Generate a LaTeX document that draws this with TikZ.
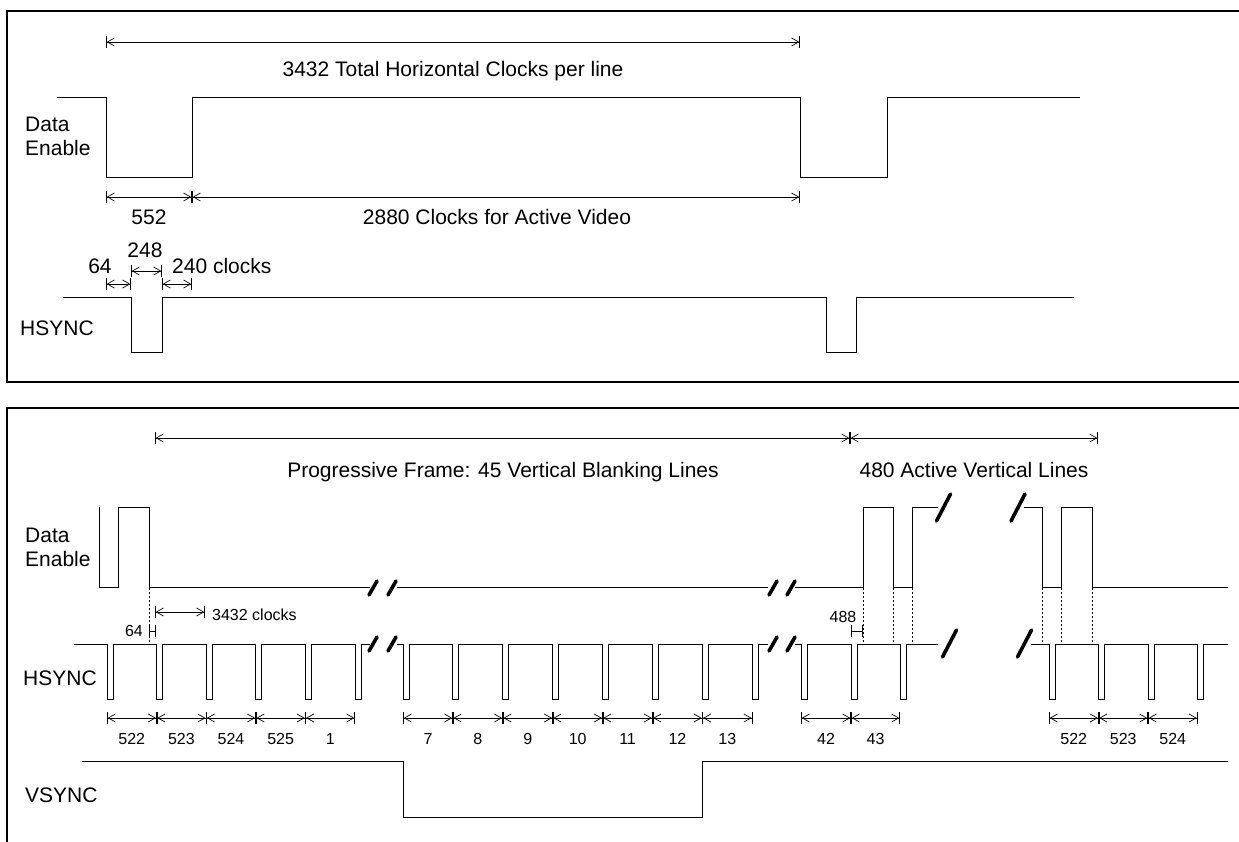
\documentclass[tikz,border=0pt]{standalone}
\usepackage{fontspec}
\setmainfont{Liberation Sans}
\usetikzlibrary{arrows.meta}
\tikzset{
  sig/.style={line width=1pt},
  frame/.style={line width=1.2pt},
  dimline/.style={line width=0.7pt, {Bar[width=12pt]Straight Barb[length=7pt,width=8pt]}-{Straight Barb[length=7pt,width=8pt]Bar[width=12pt]}},
  hmark/.style={line width=0.7pt, {Bar[width=12pt]}-{Bar[width=12pt]}},
  guide/.style={line width=0.8pt, dash pattern=on 2pt off 2pt},
  brk/.style={line width=3.6pt, line cap=round},
  lbl/.style={inner sep=0pt, font=\fontsize{21}{25}\selectfont},
  sml/.style={inner sep=0pt, font=\fontsize{16}{19}\selectfont},
}
\begin{document}
\begin{tikzpicture}[x=1pt,y=-1pt]
  \useasboundingbox (0,0) rectangle (1239,842);
  % frames
  \draw[frame] (1240,11) -- (7,11) -- (7,382) -- (1240,382);
  \draw[frame] (7,843) -- (7,408) -- (1240,408);

  % ---- one line ----
  \draw[dimline] (106,42) -- (800,42);
  \node[lbl,anchor=base] (total) at (453,77) {3432 Total Horizontal Clocks per line};
  \node[lbl,anchor=base west] (deA) at (25,132) {Data};
  \node[lbl,anchor=base west] (deB) at (25,156) {Enable};
  \draw[sig] (57,98) -- (106,98) -- (106,178) -- (192,178) -- (192,98) -- (800,98)
    -- (800,178) -- (887,178) -- (887,98) -- (1080,98);
  \draw[dimline] (106,197) -- (192,197);
  \draw[dimline] (192,197) -- (800,197);
  \node[lbl,anchor=base] (blank) at (149,225) {552};
  \node[lbl,anchor=base] (active) at (497,225) {2880 Clocks for Active Video};
  \draw[dimline] (106,284) -- (131,284);
  \draw[dimline] (131,271) -- (162,271);
  \draw[dimline] (162,284) -- (192,284);
  \node[lbl,anchor=base] (front) at (100,273) {64};
  \node[lbl,anchor=base] (pulse) at (145,258) {248};
  \node[lbl,anchor=base west] (back) at (172,273) {240 clocks};
  \node[lbl,anchor=base west] (hsA) at (20,335) {HSYNC};
  \draw[sig] (63,297) -- (131,297) -- (131,352) -- (162,352) -- (162,297) -- (826,297)
    -- (826,352) -- (856,352) -- (856,297) -- (1074,297);

  % ---- one frame ----
  \draw[dimline] (155,438) -- (850,438);
  \draw[dimline] (850,438) -- (1098,438);
  \node[lbl,anchor=base] (vblank) at (503,477) {Progressive Frame: 45 Vertical Blanking Lines};
  \node[lbl,anchor=base] (vactive) at (974,477) {480 Active Vertical Lines};
  \node[lbl,anchor=base west] (deC) at (25,542) {Data};
  \node[lbl,anchor=base west] (deD) at (25,566) {Enable};
  \node[lbl,anchor=base west] (hsB) at (23,685) {HSYNC};
  \node[lbl,anchor=base west] (vs) at (25,802) {VSYNC};

  \draw[sig] (99,507) -- (99,587) -- (118,587) -- (118,507) -- (149,507) -- (149,587) -- (370,587);
  \draw[sig] (397,587) -- (768,587);
  \draw[sig] (795,587) -- (863,587) -- (863,507) -- (893,507) -- (893,587) -- (912,587)
    -- (912,507) -- (938,507);
  \draw[sig] (1024,507) -- (1042,507) -- (1042,587) -- (1061,587) -- (1061,507) -- (1092,507)
    -- (1092,587) -- (1228,587);

  \draw[sig] (74,644) foreach \x in {107,156.6,206.2,255.8,305.4,355}
    { -- (\x,644) -- (\x,699) -- (\x+6,699) -- (\x+6,644) } -- (370,644);
  \draw[sig] (397,644) foreach \x in {403,452.9,502.8,552.7,602.6,652.5,702.4,752.3}
    { -- (\x,644) -- (\x,699) -- (\x+6,699) -- (\x+6,644) } -- (768,644);
  \draw[sig] (795,644) foreach \x in {801,851,900}
    { -- (\x,644) -- (\x,699) -- (\x+6,699) -- (\x+6,644) } -- (938,644);
  \draw[sig] (1031,644) foreach \x in {1049,1098.5,1148,1197.5}
    { -- (\x,644) -- (\x,699) -- (\x+6,699) -- (\x+6,644) } -- (1228,644);

  % breaks
  \foreach \cx in {373,392,773,791}
    \foreach \cy in {588,644}
      \draw[brk] (\cx-4,\cy+7) -- (\cx+4,\cy-7);
  \foreach \cx/\cy in {943.5/507.5,1018/507.5,949.5/643.5,1024.5/643.5}
    \draw[brk] (\cx-7,\cy+13.5) -- (\cx+7,\cy-13.5);

  % DE edges down to HSYNC
  \foreach \x in {149,863,893,912,1042,1061,1092}
    \draw[guide] (\x,588) -- (\x,644);
  \draw[dimline] (155,612) -- (205,612);
  \node[sml,anchor=base west] (lclk) at (212,620) {3432 clocks};
  \draw[hmark] (149,631) -- (156,631);
  \node[sml,anchor=base east] (fpA) at (143,636) {64};
  \draw[hmark] (851,631) -- (863,631);
  \node[sml,anchor=base] (fpB) at (843,622) {488};

  % line numbers
  \foreach \a/\b/\n [count=\i] in {107/156.6/522,156.6/206.2/523,206.2/255.8/524,255.8/305.4/525,305.4/355/1,
      403/452.9/7,452.9/502.8/8,502.8/552.7/9,552.7/602.6/10,602.6/652.5/11,652.5/702.4/12,702.4/752.3/13,
      801/851/42,851/900/43,1049/1098.5/522,1098.5/1148/523,1148/1197.5/524}
  {
    \draw[dimline] (\a,718) -- (\b,718);
    \node[sml,anchor=base] (ln\i) at ({(\a+\b)/2},744) {\n};
  }

  \draw[sig] (82,761) -- (403,761) -- (403,817) -- (702,817) -- (702,761) -- (1228,761);
\end{tikzpicture}
\end{document}
